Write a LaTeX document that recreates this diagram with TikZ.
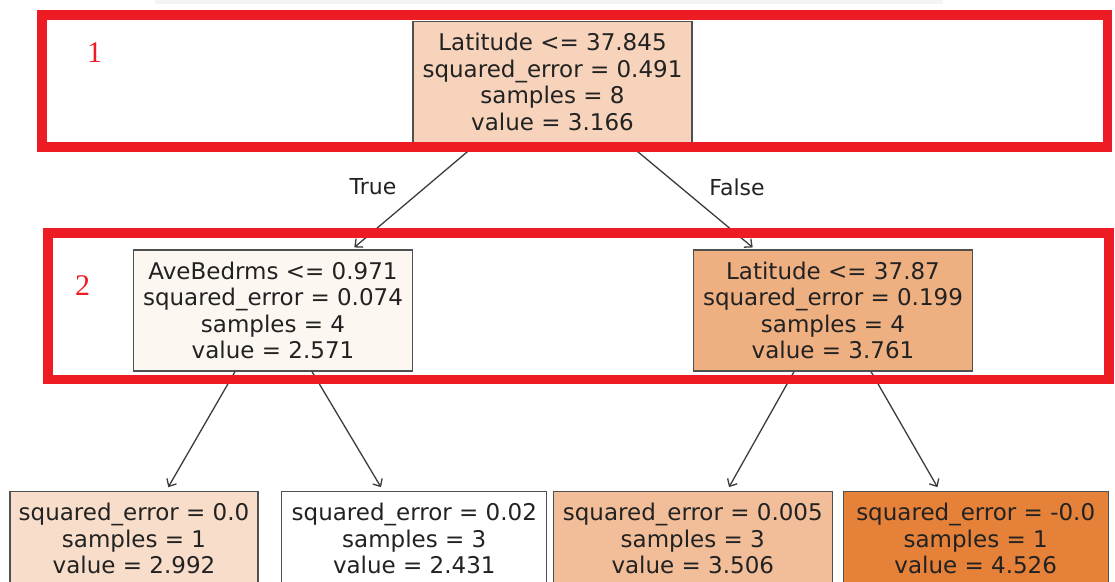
\documentclass[tikz,border=0pt]{standalone}
\usepackage{fontspec}
\setmainfont{DejaVu Sans}
\newfontfamily\numfont{Liberation Serif}
\usetikzlibrary{arrows.meta}

\definecolor{framered}{RGB}{237,28,36}
\definecolor{ink}{RGB}{34,34,34}
\definecolor{boxline}{RGB}{80,80,80}
\definecolor{edgegray}{RGB}{60,60,60}
\definecolor{strip}{RGB}{244,244,244}
% node fills: orange ramp by predicted value
\definecolor{fillRoot}{RGB}{246,211,186}
\definecolor{fillL}{RGB}{253,247,242}
\definecolor{fillR}{RGB}{238,175,129}
\definecolor{fillLL}{RGB}{248,221,202}
\definecolor{fillLR}{RGB}{255,255,255}
\definecolor{fillRL}{RGB}{242,190,153}
\definecolor{fillRR}{RGB}{229,129,57}

\tikzset{
  treebox/.style={draw=boxline, line width=1.3pt, align=center, inner sep=0pt,
    text=ink, font=\fontsize{23}{26.4}\selectfont},
  splitbox/.style={treebox, minimum width=279pt, minimum height=121pt},
  leafbox/.style={treebox, minimum height=94pt},
  edge/.style={draw=edgegray, line width=1.3pt,
    -{Straight Barb[length=6pt,width=11pt,line width=1.3pt]}},
  edgelabel/.style={text=ink, font=\fontsize{22}{26}\selectfont, inner sep=0pt},
  levelframe/.style={draw=framered, line width=9.5pt},
  levelnum/.style={text=framered, font=\numfont\fontsize{30}{30}\selectfont, inner sep=0pt}
}

\begin{document}
\begin{tikzpicture}[x=1pt, y=-1pt]
\useasboundingbox (0,0) rectangle (1115,581);
\clip (0,0) rectangle (1115,581);

% faint strip along the top edge
\fill[strip] (155,0) rectangle (943,4);

% tree nodes
\node[splitbox, fill=fillRoot] (root) at (552.5,82)
  {Latitude <= 37.845\\squared\_error = 0.491\\samples = 8\\value = 3.166};
\node[splitbox, fill=fillL] (nL) at (273,310.5)
  {AveBedrms <= 0.971\\squared\_error = 0.074\\samples = 4\\value = 2.571};
\node[splitbox, fill=fillR] (nR) at (833,310.5)
  {Latitude <= 37.87\\squared\_error = 0.199\\samples = 4\\value = 3.761};

\node[leafbox, minimum width=248pt, fill=fillLL] (nLL) at (134,538.7)
  {squared\_error = 0.0\\samples = 1\\value = 2.992};
\node[leafbox, minimum width=265pt, fill=fillLR] (nLR) at (414.3,538.7)
  {squared\_error = 0.02\\samples = 3\\value = 2.431};
\node[leafbox, minimum width=279pt, fill=fillRL] (nRL) at (692.8,538.7)
  {squared\_error = 0.005\\samples = 3\\value = 3.506};
\node[leafbox, minimum width=265pt, fill=fillRR] (nRR) at (975.7,538.7)
  {squared\_error = -0.0\\samples = 1\\value = 4.526};

% branches
\draw[edge, shorten >=3pt] ([xshift=-75pt]root.south) -- ([xshift=79pt]nL.north);
\draw[edge, shorten >=3pt] ([xshift=75pt]root.south) -- ([xshift=-78pt]nR.north);
\draw[edge, shorten >=4.5pt] ([xshift=-38pt]nL.south) -- ([xshift=32pt]nLL.north);
\draw[edge, shorten >=4.5pt] ([xshift=39pt]nL.south) -- ([xshift=-31pt]nLR.north);
\draw[edge, shorten >=4.5pt] ([xshift=-39pt]nR.south) -- ([xshift=34pt]nRL.north);
\draw[edge, shorten >=4.5pt] ([xshift=38pt]nR.south) -- ([xshift=-36pt]nRR.north);

\node[edgelabel] (lblTrue) at (373,187) {True};
\node[edgelabel] (lblFalse) at (737,187) {False};

% level frames and their numbers
\draw[levelframe] (42,15) rectangle (1107.5,147);
\draw[levelframe] (47.8,233) rectangle (1109,379.5);
\node[levelnum] (lvl1) at (94.5,53) {1};
\node[levelnum] (lvl2) at (82.5,286) {2};
\end{tikzpicture}
\end{document}
